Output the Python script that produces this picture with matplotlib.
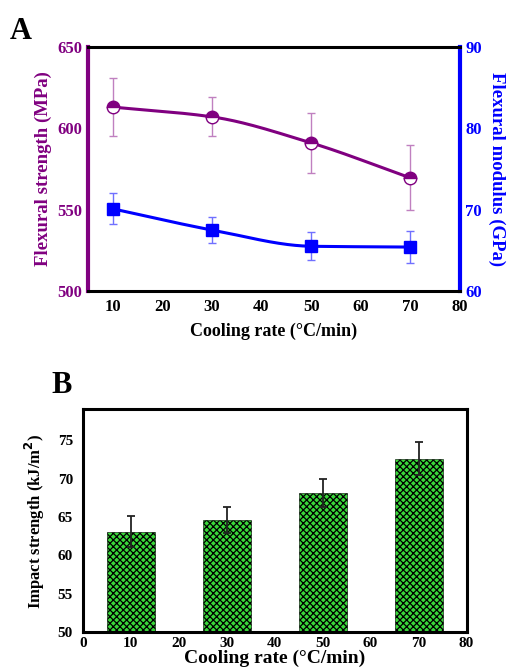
import matplotlib.pyplot as plt
import numpy as np

plt.rcParams['font.family'] = ['Liberation Serif', 'DejaVu Serif']
plt.rcParams['font.weight'] = 'bold'
plt.rcParams['hatch.linewidth'] = 0.9

# data
rate = [10, 30, 50, 70]
flex_strength = [613, 607, 591, 569.5]
flex_strength_err = [18, 12, 18.5, 20]
flex_modulus = [70.1, 67.5, 65.5, 65.4]
flex_modulus_err = [1.9, 1.6, 1.7, 2.0]
impact = [63.1, 64.6, 68.1, 72.6]
impact_err = [2.0, 1.7, 1.8, 2.1]

purple = '#800080'
blue = '#0000ff'


def pchip(x, y, xs):
    # monotone cubic through the points, only for the drawn line
    x = np.asarray(x, float)
    y = np.asarray(y, float)
    h = np.diff(x)
    d = np.diff(y) / h
    m = np.zeros_like(y)
    for k in range(1, len(x) - 1):
        if d[k - 1] * d[k] > 0:
            w1 = 2 * h[k] + h[k - 1]
            w2 = h[k] + 2 * h[k - 1]
            m[k] = (w1 + w2) / (w1 / d[k - 1] + w2 / d[k])
    m[0] = d[0]
    m[-1] = d[-1]
    i = np.clip(np.searchsorted(x, xs) - 1, 0, len(x) - 2)
    t = (xs - x[i]) / h[i]
    h00 = 2 * t**3 - 3 * t**2 + 1
    h10 = t**3 - 2 * t**2 + t
    h01 = -2 * t**3 + 3 * t**2
    h11 = t**3 - t**2
    return h00 * y[i] + h10 * h[i] * m[i] + h01 * y[i + 1] + h11 * h[i] * m[i + 1]


fig = plt.figure(figsize=(5.11, 6.69), dpi=100)

# ---- panel A
ax = fig.add_axes([0.172, 0.565, 0.728, 0.365])
ax2 = ax.twinx()

xs = np.linspace(10, 70, 200)
ax.plot(xs, pchip(rate, flex_strength, xs), color=purple, lw=2.2, zorder=2)
ax.errorbar(rate, flex_strength, yerr=flex_strength_err, fmt='none', ecolor='#c080c0', elinewidth=1, capsize=3, zorder=1)
ax.plot(rate, flex_strength, 'o', ms=9, color=purple, fillstyle='top', markerfacecoloralt='white', mec=purple, mew=1, zorder=3)

ax2.plot(xs, pchip(rate, flex_modulus, xs), color=blue, lw=2.2, zorder=2)
ax2.errorbar(rate, flex_modulus, yerr=flex_modulus_err, fmt='none', ecolor='#7070ff', elinewidth=1, capsize=3, zorder=1)
ax2.plot(rate, flex_modulus, 's', ms=8, color=blue, zorder=3)

ax.set_xlim(5, 80)
ax.set_ylim(500, 650)
ax2.set_ylim(60, 90)
ax.set_xticks(range(10, 81, 10))
ax.set_yticks([500, 550, 600, 650])
ax2.set_yticks([60, 70, 80, 90])

for s in ['top', 'bottom']:
    ax2.spines[s].set_linewidth(2.2)
    ax2.spines[s].set_color('black')
ax2.spines['left'].set_color(purple)
ax2.spines['left'].set_linewidth(3)
ax2.spines['right'].set_color(blue)
ax2.spines['right'].set_linewidth(3)

ax.tick_params(axis='x', length=0, labelsize=12, pad=6)
ax.tick_params(axis='y', length=0, labelsize=12, labelcolor=purple, pad=4)
ax2.tick_params(axis='y', length=0, labelsize=12, labelcolor=blue, pad=4)

ax.set_ylabel('Flexural strength (MPa)', color=purple, fontsize=13.5, fontweight='bold', labelpad=4)
ax2.set_ylabel('Flexural modulus (GPa)', color=blue, fontsize=13.5, fontweight='bold', rotation=270, labelpad=17)
ax.set_xlabel('Cooling rate (°C/min)', fontsize=13, fontweight='bold', labelpad=5)
fig.text(0.02, 0.942, 'A', fontsize=22, fontweight='bold')

# ---- panel B
bx = fig.add_axes([0.162, 0.055, 0.751, 0.333])
bx.bar(rate, impact, width=10, color='#3ad83a', edgecolor='black', linewidth=0.4, hatch='xxxxx', zorder=2)
bx.errorbar(rate, impact, yerr=impact_err, fmt='none', ecolor='#222222', elinewidth=1.3, capsize=3, capthick=1.3, zorder=3)
bx.set_xlim(0, 80)
bx.set_ylim(50, 79)
bx.set_xticks(range(0, 81, 10))
bx.set_yticks(range(50, 76, 5))
for s in bx.spines.values():
    s.set_linewidth(2.2)
bx.tick_params(length=0, labelsize=11)
bx.tick_params(axis='y', pad=7)
bx.set_ylabel('Impact strength (kJ/m$^\\mathbf{2}$)', fontsize=12, fontweight='bold', labelpad=8)
bx.set_xlabel('Cooling rate (°C/min)', fontsize=14, fontweight='bold', labelpad=0)
fig.text(0.10, 0.412, 'B', fontsize=22, fontweight='bold')

fig.savefig('out.png', dpi=100)
